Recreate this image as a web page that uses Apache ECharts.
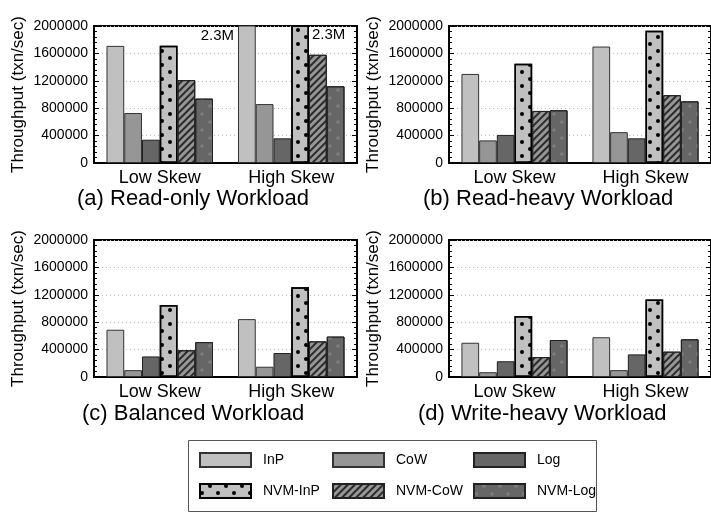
<!DOCTYPE html>
<html>
<head>
<meta charset="utf-8">
<script src="https://cdn.jsdelivr.net/npm/echarts@6/dist/echarts.min.js"></script>
<style>
    html, body { margin: 0; padding: 0; background: #fff; }
    #chart { width: 711px; height: 513px; }
</style>
</head>
<body>
<div id="chart"></div>
<script>
let categories = ["Low Skew", "High Skew"];
let schemes = ["InP", "CoW", "Log", "NVM-InP", "NVM-CoW", "NVM-Log"];
let panelTitles = ["(a) Read-only Workload", "(b) Read-heavy Workload", "(c) Balanced Workload", "(d) Write-heavy Workload"];
let yTicks = [0, 400000, 800000, 1200000, 1600000, 2000000];

// one value per scheme, same order as schemes
let readOnlyLow = [1710000, 730000, 340000, 1710000, 1210000, 940000];
let readOnlyHigh = [2300000, 860000, 360000, 2300000, 1580000, 1120000];
let readHeavyLow = [1300000, 330000, 410000, 1450000, 760000, 770000];
let readHeavyHigh = [1700000, 450000, 360000, 1930000, 990000, 900000];
let balancedLow = [690000, 100000, 300000, 1050000, 390000, 510000];
let balancedHigh = [845000, 150000, 350000, 1310000, 520000, 590000];
let writeHeavyLow = [500000, 70000, 230000, 890000, 290000, 540000];
let writeHeavyHigh = [580000, 100000, 330000, 1130000, 370000, 550000];

let panels = [
    [readOnlyLow, readOnlyHigh],
    [readHeavyLow, readHeavyHigh],
    [balancedLow, balancedHigh],
    [writeHeavyLow, writeHeavyHigh],
];

let font = "Liberation Sans";
let yMax = yTicks[yTicks.length - 1];

let dots = {
    symbol: "circle", symbolSize: 1, color: "#000",
    dashArrayX: [[4, 12], [0, 8, 4, 4]], dashArrayY: [4, 3],
};
let stripes = {
    symbol: "rect", symbolSize: 1, color: "#2a2a2a",
    dashArrayX: [1, 0], dashArrayY: [2, 3], rotation: -Math.PI / 4,
};
let faintDots = {
    symbol: "circle", symbolSize: 1, color: "#7a7a7a",
    dashArrayX: [[4, 12], [0, 8, 4, 4]], dashArrayY: [4, 4],
};

let styles = [
    { color: "#c0c0c0", borderColor: "#333", borderWidth: 1 },
    { color: "#969696", borderColor: "#333", borderWidth: 1 },
    { color: "#666666", borderColor: "#222", borderWidth: 1 },
    { color: "#c0c0c0", borderColor: "#000", borderWidth: 1.5, decal: dots },
    { color: "#969696", borderColor: "#222", borderWidth: 1, decal: stripes },
    { color: "#666666", borderColor: "#222", borderWidth: 1, decal: faintDots },
];

let grids = [
    { left: 94, top: 26, width: 263, height: 137 },
    { left: 449, top: 26, width: 265, height: 137 },
    { left: 94, top: 240, width: 263, height: 137 },
    { left: 449, top: 240, width: 265, height: 137 },
];
let titlePos = [[77, 188], [423, 188], [82, 403], [418, 403]];

let chart = echarts.init(document.getElementById("chart"));

let xAxes = [], yAxes = [], series = [], titles = [];

grids.forEach((g, p) => {
    g.show = true;
    g.borderColor = "#000";
    g.borderWidth = 2;
    g.backgroundColor = "transparent";

    xAxes.push({
        gridIndex: p,
        type: "category",
        data: categories,
        axisLine: { lineStyle: { color: "#000", width: 2 } },
        axisTick: { show: false },
        axisLabel: { color: "#000", fontSize: 18, fontFamily: font, margin: 6 },
    });
    let yBase = {
        gridIndex: p,
        type: "value",
        min: 0,
        max: yMax,
        interval: yTicks[1] - yTicks[0],
        axisTick: { show: true, inside: true, length: 5, lineStyle: { color: "#000" } },
        minorTick: { show: true, splitNumber: 5, length: 3, lineStyle: { color: "#000" } },
    };
    yAxes.push(Object.assign({}, yBase, {
        position: "left",
        name: "Throughput (txn/sec)",
        nameLocation: "middle",
        nameGap: 67,
        nameTextStyle: { color: "#000", fontSize: 17, fontFamily: font },
        axisLine: { show: true, lineStyle: { color: "#000", width: 2 } },
        axisLabel: {
            color: "#000", fontSize: 14, fontFamily: font, margin: 6,
            formatter: (v) => String(v),
        },
        splitLine: { show: true, lineStyle: { color: "#bbb", type: [1, 3], width: 1 } },
    }));
    yAxes.push(Object.assign({}, yBase, {
        position: "right",
        axisLine: { show: false },
        axisLabel: { show: false },
        splitLine: { show: false },
    }));

    let [low, high] = panels[p];
    schemes.forEach((name, i) => {
        let data = [low[i], high[i]].map((v) => {
            if (v <= yMax) return v;
            let left = i === 0;
            return {
                value: v,
                label: {
                    show: true,
                    formatter: (v / 1e6).toFixed(1) + "M",
                    position: left ? [-4, 10] : ["100%", 10],
                    offset: left ? [0, 0] : [3, 0],
                    align: left ? "right" : "left",
                    verticalAlign: "middle",
                    color: "#000",
                    fontSize: 15,
                    fontFamily: font,
                },
            };
        });
        series.push({
            type: "bar",
            name: name,
            xAxisIndex: p,
            yAxisIndex: p * 2,
            data: data,
            barGap: "0%",
            barCategoryGap: "19%",
            itemStyle: styles[i],
            emphasis: { disabled: true },
        });
    });

    titles.push({
        text: panelTitles[p],
        left: titlePos[p][0],
        top: titlePos[p][1],
        padding: 0,
        textStyle: { color: "#000", fontSize: 22, fontWeight: "normal", fontFamily: font },
    });
});

let legendCols = [[199, ["InP", "NVM-InP"]], [332, ["CoW", "NVM-CoW"]], [473, ["Log", "NVM-Log"]]];
let legends = legendCols.map(([x, names]) => ({
    left: x,
    top: 452,
    orient: "vertical",
    padding: 0,
    icon: "rect",
    itemWidth: 51,
    itemHeight: 14,
    itemGap: 15,
    data: names,
    selectedMode: false,
    textStyle: { color: "#000", fontSize: 14, fontFamily: font, padding: [0, 0, 0, 7] },
}));

chart.setOption({
    animation: false,
    title: titles,
    grid: grids,
    xAxis: xAxes,
    yAxis: yAxes,
    legend: legends,
    series: series,
    graphic: [{
        type: "rect",
        shape: { x: 188.5, y: 440.5, width: 408, height: 71 },
        style: { fill: "none", stroke: "#555", lineWidth: 1 },
        silent: true,
    }],
});
</script>
</body>
</html>
